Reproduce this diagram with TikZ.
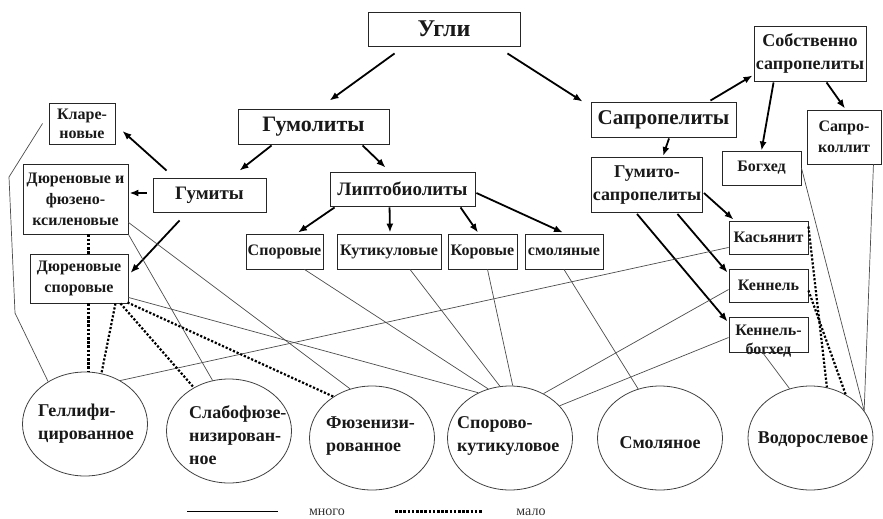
\documentclass[tikz,border=0pt]{standalone}
\usepackage{fontspec}
\setmainfont{Liberation Serif}
\usetikzlibrary{arrows.meta,shapes.geometric,calc}
\newcommand\myfs[2]{\fontsize{#1}{#2}\selectfont}
\begin{document}
\begin{tikzpicture}[x=1pt,y=-1pt,
  box/.style={draw=black!85, line width=0.9pt, inner sep=0pt, align=center, text=black!90},
  ell/.style={draw=black!75, line width=0.8pt, ellipse, minimum width=125pt, minimum height=104pt, inner sep=0pt},
  etext/.style={font=\bfseries\myfs{18}{23}, align=left, inner sep=0pt, anchor=west, text=black!90},
  arr/.style={line width=1.8pt, -{Latex[length=9pt,width=7pt]}},
  conn/.style={draw=black!70, line width=0.7pt},
  dotsA/.style={line width=2.2pt, dash pattern=on 2.2pt off 1.8pt},
  dotsB/.style={line width=3pt, dash pattern=on 2.6pt off 1.6pt},
  legtext/.style={font=\myfs{14}{16}, inner sep=0pt, anchor=base, text=black!80}
]
\useasboundingbox (0,0) rectangle (883,519);

% boxes
\node[box, minimum width=152pt, minimum height=34pt, font=\bfseries\myfs{24}{28}] (ugli) at (444,29) {Угли};
\node[box, minimum width=151pt, minimum height=35pt, font=\bfseries\myfs{22}{26}] (gum) at (313.5,126.5) {Гумолиты};
\node[box, minimum width=145pt, minimum height=35pt, font=\bfseries\myfs{21}{25}] (sap) at (663.5,119.5) {Сапропелиты};
\node[box, minimum width=112pt, minimum height=55pt, font=\bfseries\myfs{18}{23}] (sob) at (810,53.5) {Собственно\\сапропелиты};
\node[box, minimum width=74pt, minimum height=54pt, font=\bfseries\myfs{16}{21}] (sapk) at (844,137) {Сапро-\\коллит};
\node[box, minimum width=79pt, minimum height=34pt, font=\bfseries\myfs{16}{19}] (bog) at (761.5,168) {Богхед};
\node[box, minimum width=111pt, minimum height=55pt, font=\bfseries\myfs{18}{23}] (gs) at (647,185) {Гумито-\\сапропелиты};
\node[box, minimum width=79pt, minimum height=33pt, font=\bfseries\myfs{16}{19}] (kas) at (768.5,237.5) {Касьянит};
\node[box, minimum width=79pt, minimum height=33pt, font=\bfseries\myfs{16}{19}] (ken) at (768.5,285.5) {Кеннель};
\node[box, minimum width=79pt, minimum height=35pt, font=\bfseries\myfs{16}{19}] (kb) at (768.5,334.5) {};
\node[font=\bfseries\myfs{16}{19}, align=center, inner sep=0pt, text=black!90] (kbt) at (768.5,341) {Кеннель-\\богхед};
\node[box, minimum width=66pt, minimum height=41pt, font=\bfseries\myfs{16}{19}] (kl) at (82,123.5) {Кларе-\\новые};
\node[box, minimum width=105pt, minimum height=70pt, font=\bfseries\myfs{16}{21}] (dif) at (75.5,199) {Дюреновые и\\фюзено-\\ксиленовые};
\node[box, minimum width=113pt, minimum height=34pt, font=\bfseries\myfs{19}{23}] (hum) at (209.5,195) {Гумиты};
\node[box, minimum width=98pt, minimum height=49pt, font=\bfseries\myfs{16}{21}] (dsp) at (79,278.5) {Дюреновые\\споровые};
\node[box, minimum width=145pt, minimum height=34pt, font=\bfseries\myfs{19}{23}] (lip) at (402.5,189) {Липтобиолиты};
\node[box, minimum width=77pt, minimum height=35pt, font=\bfseries\myfs{16}{19}] (spo) at (284.5,251.5) {Споровые};
\node[box, minimum width=104pt, minimum height=35pt, font=\bfseries\myfs{16}{19}] (kut) at (389,251.5) {Кутикуловые};
\node[box, minimum width=69pt, minimum height=35pt, font=\bfseries\myfs{16}{19}] (kor) at (482.5,251.5) {Коровые};
\node[box, minimum width=78pt, minimum height=35pt, font=\bfseries\myfs{16}{19}] (smo) at (564,251.5) {смоляные};

% ellipses
\node[ell] (gel) at (85,424) {};
\node[ell] (slab) at (229,431) {};
\node[ell] (fuz) at (372,438) {};
\node[ell] (spk) at (510,438) {};
\node[ell] (sml) at (660,438) {};
\node[ell] (vod) at (810.5,438) {};
\node[etext] (gelt) at (38,424) {Геллифи-\\цированное};
\node[etext] (slabt) at (189,435) {Слабофюзе-\\низирован-\\ное};
\node[etext] (fuzt) at (326,436.5) {Фюзенизи-\\рованное};
\node[etext] (spkt) at (457,436) {Спорово-\\кутикуловое};
\node[etext, anchor=center] (smlt) at (660,443) {Смоляное};
\node[etext, anchor=center] (vodt) at (813,440) {Водорослевое};

% thick arrows
\draw[arr] ($(ugli.south west)+(27,7)$) -- ($(gum.north west)+(92,-8)$);
\draw[arr] ($(ugli.south east)+(-13,7)$) -- ($(sap.north west)+(-8,0)$);
\draw[arr] ($(gum.south west)+(34,1)$) -- ($(hum.north west)+(87,-7)$);
\draw[arr] ($(gum.south west)+(125,1)$) -- ($(lip.north west)+(56,-4)$);
\draw[arr] ($(hum.north west)+(14,-7)$) -- ($(kl.east)+(7,7.5)$);
\draw[arr] ($(hum.west)+(-6,-2)$) -- ($(dif.east)+(1,-6)$);
\draw[arr] ($(hum.south west)+(27,8)$) -- ($(dsp.east)+(2,-5.5)$);
\draw[arr] ($(lip.south west)+(5,1)$) -- ($(spo.north)+(13.5,-1)$);
\draw[arr] ($(lip.south west)+(60,1)$) -- ($(kut.north)+(1,-1)$);
\draw[arr] ($(lip.south west)+(131,1)$) -- ($(kor.north)+(-4.5,-1)$);
\draw[arr] ($(lip.east)+(1,4)$) -- ($(smo.north)+(-1,-1)$);
\draw[arr] ($(sap.north east)+(-26,-1)$) -- ($(sob.south west)+(-1,-6)$);
\draw[arr] ($(sap.south)+(5.5,1)$) -- ($(gs.north)+(16,-1)$);
\draw[arr] ($(sob.south west)+(20,1)$) -- (bog.north);
\draw[arr] ($(sob.south west)+(73,1)$) -- ($(sapk.north)+(1,-1)$);
\draw[arr] ($(gs.east)+(1,8)$) -- ($(kas.north west)+(5,-1)$);
\draw[arr] ($(gs.south east)+(-25.5,1)$) -- ($(ken.north west)+(-1,4)$);
\draw[arr] ($(gs.south)+(-10,1)$) -- ($(kb.north west)+(-1,5)$);

% thin connectors (много)
\coordinate (b1) at (9,177);
\coordinate (b2) at (15,313);
\draw[conn] ($(kl.west)+(-6,0)$) -- (b1) -- (b2) -- (gel.131);
\draw[conn] ($(dif.south east)+(0,-12)$) -- (fuz.114);
\draw[conn] (dif.south east) -- (slab.108);
\draw[conn] ($(dsp.south east)+(0,-6)$) -- (spk.125);
\draw[conn] ($(kas.south west)+(0,-7)$) -- (gel.51);
\draw[conn] ($(spo.south)+(20,0)$) -- (spk.114);
\draw[conn] ($(kut.south)+(21,0)$) -- (spk.101);
\draw[conn] ($(kor.south)+(5,0)$) -- (spk.87);
\draw[conn] (smo.south) -- (sml.114);
\draw[conn] ($(ken.west)+(0,4)$) -- (spk.53);
\draw[conn] ($(kb.west)+(0,3)$) -- (spk.33);
\draw[conn] ($(kb.south)+(-6,0)$) -- (vod.113);
\draw[conn] (bog.east) -- (vod.27);
\draw[conn] ($(sapk.south east)+(-8,0)$) -- (vod.27);

% dotted connectors (мало)
\draw[dotsB] ($(dif.south)+(12.5,0)$) -- ($(dsp.north)+(9,0)$);
\draw[dotsB] ($(dsp.south)+(9,0)$) coordinate (t1) -- (t1 |- gel.north);
\draw[dotsA] ($(dsp.south east)+(-13,0)$) -- (gel.72);
\draw[dotsA] ($(dsp.south east)+(-8,0)$) -- (slab.129);
\draw[dotsA] ($(dsp.south east)+(-1,-1)$) -- (fuz.133);
\draw[dotsA] ($(kas.north east)+(0,6)$) -- (vod.72);
\draw[dotsA] ($(ken.east)+(0,5)$) -- (vod.51);

% legend
\node[legtext] (many) at (327,515.5) {много};
\node[legtext] (few) at (531,515.5) {мало};
\coordinate (l1a) at (187,511);
\coordinate (l1b) at (278,511);
\coordinate (l2a) at (395,511);
\coordinate (l2b) at (482,511);
\draw[line width=0.9pt] (l1a) -- (l1b);
\draw[dotsB] (l2a) -- (l2b);
\end{tikzpicture}
\end{document}
